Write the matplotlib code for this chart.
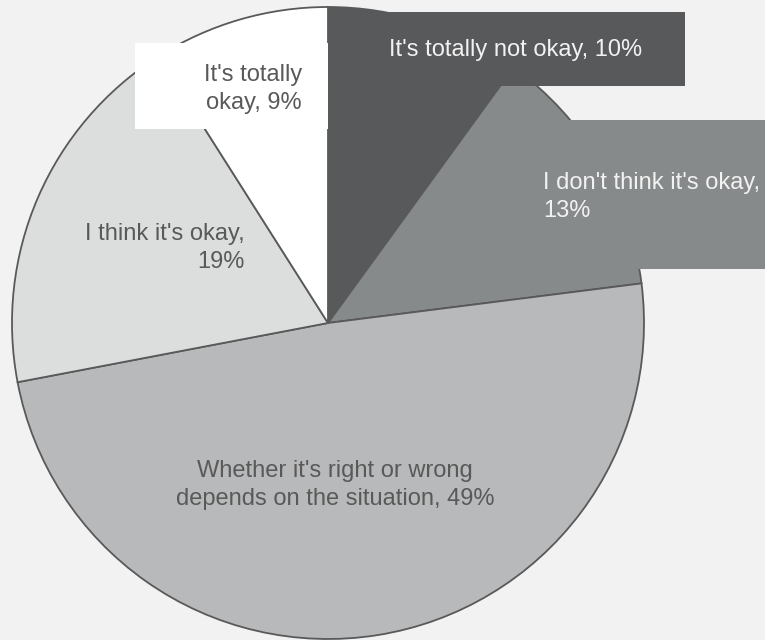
import matplotlib.pyplot as plt
from matplotlib.patches import Rectangle

# data
labels = ["It's totally not okay, 10%",
          "I don't think it's okay,\n13%",
          "Whether it's right or wrong\ndepends on the situation, 49%",
          "I think it's okay,\n19%",
          "It's totally\nokay, 9%"]
values = [10, 13, 49, 19, 9]
colors = ['#58595b', '#878a8a', '#b8b9ba', '#dcdedd', '#ffffff']
text_colors = ['#f2f2f2', '#f2f2f2', '#595959', '#595959', '#595959']

W, H = 765, 640
bg = '#f2f2f2'

fig = plt.figure(figsize=(W / 100, H / 100), dpi=100, facecolor=bg)
ax = fig.add_axes([0, 0, 1, 1])
ax.set_facecolor(bg)

def py(y):
    # pixel row (from top) -> data y
    return H - y

ax.pie(values, colors=colors, startangle=90, counterclock=False,
       center=(328, py(323)), radius=316, frame=True,
       wedgeprops=dict(edgecolor='#595959', linewidth=1.3))

ax.set_xlim(0, W)
ax.set_ylim(0, H)
ax.set_aspect('equal')
ax.axis('off')

# label boxes (x0, y_top, x1, y_bottom) in pixels
boxes = {0: (328, 12, 685, 86),
         1: (518, 120, 780, 269),
         4: (135, 43, 328, 129)}
for i, (x0, y0, x1, y1) in boxes.items():
    ax.add_patch(Rectangle((x0, py(y1)), x1 - x0, y1 - y0,
                           facecolor=colors[i], edgecolor='none', zorder=5))

font = dict(family=['Liberation Sans', 'DejaVu Sans'], fontsize=17, linespacing=1.36, zorder=6)
# (x, y, ha)
pos = [(516, 50, 'center'),
       (543, 197, 'left'),
       (335, 485, 'center'),
       (245, 248, 'right'),
       (302, 89, 'right')]
for i, (x, y, ha) in enumerate(pos):
    ax.text(x, py(y), labels[i], color=text_colors[i], ha=ha, va='center',
            multialignment=ha, **font)

fig.savefig('out.png', dpi=100, facecolor=bg)
